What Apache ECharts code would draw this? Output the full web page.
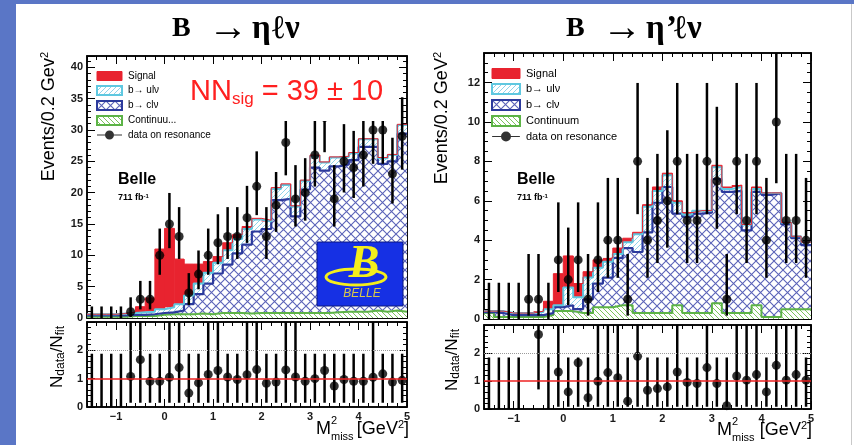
<!DOCTYPE html>
<html><head><meta charset="utf-8">
<script src="https://cdn.jsdelivr.net/npm/echarts@6/dist/echarts.min.js"></script>
<style>html,body{margin:0;padding:0;background:#fff}#c{width:854px;height:445px}</style>
</head><body><div id="c"></div>
<script>
// ---------- binning / ticks ----------
const binCenters = [-1.5,-1.3,-1.1,-0.9,-0.7,-0.5,-0.3,-0.1,0.1,0.3,0.5,0.7,0.9,1.1,1.3,1.5,1.7,1.9,2.1,2.3,2.5,2.7,2.9,3.1,3.3,3.5,3.7,3.9,4.1,4.3,4.5,4.7,4.9];
const binEdges = [-1.6,-1.4,-1.2,-1.0,-0.8,-0.6,-0.4,-0.2,0.0,0.2,0.4,0.6,0.8,1.0,1.2,1.4,1.6,1.8,2.0,2.2,2.4,2.6,2.8,3.0,3.2,3.4,3.6,3.8,4.0,4.2,4.4,4.6,4.8,5.0];
const xTickLabels = [-1,0,1,2,3,4,5];

// ---------- B -> eta l nu (left) ----------
const etaContinuum = [0.2,0.2,0.2,0.2,0.3,0.3,0.3,0.5,0.6,0.6,0.6,0.7,0.6,0.8,0.8,0.8,0.7,0.8,0.8,0.8,0.8,0.8,0.8,0.8,0.8,0.9,1.0,1.0,1.0,1.2,1.0,1.2,1.0];
const etaClv = [0.2,0.2,0.2,0.2,0.2,0.2,0.3,0.3,0.3,0.6,1.6,3.1,4.9,6.3,7.7,9.5,11.0,13.0,13.4,18.0,18.2,15.4,19.7,23.2,22.7,23.3,23.5,24.2,26.3,26.1,23.6,23.8,28.4];
const etaUlv = [0.2,0.2,0.2,0.3,0.3,0.4,0.4,0.6,0.8,1.0,1.4,1.7,1.7,1.7,2.3,2.3,2.5,1.9,1.2,1.8,2.2,1.6,1.4,1.8,1.3,1.4,1.2,1.1,1.2,1.2,0.9,1.0,1.4];
const etaSignal = [0,0,0,0,0.15,0.9,2.2,9.6,12.6,7.2,5.0,3.1,1.8,1.0,1.2,0.7,0.4,0.2,0.2,0.2,0.2,0.1,0.1,0.2,0.1,0.1,0.1,0.1,0.1,0.1,0.1,0.1,0.1];
const etaData = [0,0,0,0,1,3,3,10,15,13,4,7,10,12,13,13,16,21,13,18,28,19,20,26,32,19,25,24,26,30,30,23,29];
const etaDataLo = [0,0,0,0,0.17,1.37,1.37,6.89,11.14,9.42,2.09,4.58,6.89,8.57,9.42,9.42,11.98,16.41,9.42,13.74,22.76,14.59,15.53,20.97,26.45,14.59,20.03,19.14,20.97,24.6,24.6,18.26,23.67];
const etaDataHi = [1.84,1.84,1.84,1.84,3.3,5.92,5.92,14.27,19.95,17.69,7.16,10.77,14.27,16.55,17.69,17.69,21.08,26.59,17.69,23.29,34.16,24.39,25.5,32.01,38.42,24.39,30.93,29.85,32.01,36.29,36.29,28.76,35.22];
const etaRatio = [null,null,null,null,1.08,1.67,0.91,0.91,1.05,1.39,0.49,0.85,1.15,1.29,1.06,0.97,1.14,1.32,0.84,0.88,1.31,1.06,0.91,1.00,1.29,0.74,0.97,0.91,0.91,1.05,1.17,0.88,0.94];
const etaRatioLo = [0,0,0,0,0.15,0.15,0.15,0.15,0.15,0.15,0.15,0.15,0.15,0.15,0.15,0.15,0.15,0.15,0.15,0.15,0.15,0.15,0.15,0.15,0.15,0.15,0.15,0.15,0.15,0.15,0.15,0.15,0.15];
const etaRatioHi = [1.88,1.88,1.88,1.88,3,3,1.88,1.88,3,3,1.88,1.88,3,3,1.88,1.88,3,3,1.88,1.88,3,3,1.88,1.88,1.88,1.88,1.88,1.88,1.88,3,1.88,1.88,1.88];

// ---------- B -> eta' l nu (right) ----------
const etapContinuum = [0.3,0.1,0.1,0.1,0.1,0.1,0.2,0.4,0.4,0.3,0.3,0.6,0.6,0.7,0.7,0.3,0.3,0.3,0.3,0.7,0.3,0.3,0.3,0.8,0.3,0.3,0.3,0.7,0.1,0.1,0.5,0.5,0.5];
const etapClv = [0.05,0.2,0.1,0.1,0.1,0.1,0.1,0.2,0.3,0.2,0.7,1.2,1.5,2.4,2.9,3.1,4.1,5.6,6.4,4.65,4.9,5.05,5.1,6.3,6.15,6.2,4.2,5.75,6.2,6.3,4.3,3.6,3.25];
const etapUlv = [0.05,0.1,0.1,0.1,0.1,0.15,0.2,0.1,0.9,0.6,1.1,0.8,0.8,0.2,0.3,0.9,1.3,0.6,0.6,0.55,0.1,0.15,0.1,0.6,0.15,0.2,0.3,0.15,0.1,0.0,0.1,0.1,0.15];
const etapSignal = [0,0,0,0,0,0.05,0.4,1.6,1.6,0.7,0.3,0.4,0.2,0.3,0.2,0.1,0.1,0.2,0.1,0.1,0.1,0,0,0.1,0.1,0.1,0,0.1,0,0,0,0,0];
const etapData = [0,0,0,0,1,1,0,3,2,3,1,3,4,4,1,8,4,5,6,8,5,5,8,7,1,8,5,8,4,10,5,5,4];
const etapDataLo = [0,0,0,0,0.17,0.17,0,1.37,0.71,1.37,0.17,1.37,2.09,2.09,0.17,5.32,2.09,2.84,3.62,5.32,2.84,2.84,5.32,4.58,0.17,5.32,2.84,5.32,2.09,6.89,2.84,2.84,2.09];
const etapDataHi = [1.84,1.84,1.84,1.84,3.3,3.3,1.84,5.92,4.64,5.92,3.3,5.92,7.16,7.16,3.3,11.98,7.16,8.38,9.58,11.98,8.38,8.38,11.98,10.77,3.3,11.98,8.38,11.98,7.16,14.27,8.38,8.38,7.16];
const etapRatio = [null,null,null,null,null,2.66,null,1.32,0.61,1.65,0.40,0.99,1.30,1.12,0.28,1.88,0.67,0.73,0.79,1.32,0.95,0.91,1.48,0.91,0.12,1.18,1.03,1.23,0.61,1.56,1.03,1.23,1.03];
const etapRatioLo = [0,0,0,0,null,0.70,0,0.08,0.08,0.08,0.08,0.08,0.08,0.08,0.08,0.08,0.08,0.08,0.08,0.08,0.08,0.08,0.08,0.08,0.08,0.08,0.08,0.08,0.08,0.08,0.08,0.08,0.08];
const etapRatioHi = [1.84,1.84,1.84,1.84,null,3,1.84,3,1.84,1.84,1.84,3,3,3,1.84,3,1.84,1.84,1.84,3,1.84,1.84,3,1.84,1.84,3,3,3,1.84,3,3,3,1.84];

// ---------- styles ----------
const FONT = '"Liberation Sans", Arial, Helvetica, sans-serif';
const SERIF = '"Liberation Serif", "DejaVu Serif", "Times New Roman", serif';
const C = { sig:'#e8232f', ulv:'#5fc8e0', clv:'#2c3a9c', cont:'#5cb346' };

function pattern(kind){
  const s = kind === 'clv' ? 9 : 5;
  const cv = document.createElement('canvas'); cv.width = s; cv.height = s;
  const x = cv.getContext('2d');
  x.fillStyle = '#fff'; x.fillRect(0,0,s,s);
  x.lineWidth = 1;
  x.beginPath();
  if (kind === 'ulv') { x.strokeStyle = '#8fd3ea';
    x.moveTo(-1,s+1); x.lineTo(s+1,-1); x.moveTo(-1,1); x.lineTo(1,-1); x.moveTo(s-1,s+1); x.lineTo(s+1,s-1); }
  else if (kind === 'cont') { x.strokeStyle = '#7cc45c';
    x.moveTo(-1,-1); x.lineTo(s+1,s+1); x.moveTo(s-1,-1); x.lineTo(s+1,1); x.moveTo(-1,s-1); x.lineTo(1,s+1); }
  else { x.strokeStyle = '#5b63b8'; x.lineWidth = 1.1;
    x.moveTo(0,0); x.lineTo(s,s); x.moveTo(0,s); x.lineTo(s,0); }
  x.stroke();
  return { image: cv, repeat: 'repeat' };
}
const P = { ulv: pattern('ulv'), clv: pattern('clv'), cont: pattern('cont') };

const grids = [
  {left:87, top:56, width:320, height:262},
  {left:87, top:322, width:320, height:85},
  {left:484, top:53, width:327, height:266},
  {left:484, top:325, width:327, height:84}
];
const labelStyle = {fontSize:11, fontWeight:'bold', color:'#1a1a1a', fontFamily:FONT};

function xAxesFor(g, showLabels){
  const base = {gridIndex:g, type:'value', min:-1.6, max:5, splitLine:{show:false}};
  const major = (pos, lab) => ({...base, position:pos,
    axisLine:{show:true, onZero:false, lineStyle:{color:'#000', width:1.5}},
    axisTick:{show:true, inside:true, length:8, customValues:xTickLabels, lineStyle:{color:'#000', width:1}},
    axisLabel:{show:lab, customValues:xTickLabels, margin:4, ...labelStyle,
      formatter: v => v < 0 ? '\u2212' + Math.abs(v) : String(v)}});
  const minor = pos => ({...base, position:pos, interval:0.2,
    axisLine:{show:false, onZero:false},
    axisTick:{show:true, inside:true, length:4, lineStyle:{color:'#000', width:1}},
    axisLabel:{show:false}});
  return [major('bottom', showLabels), minor('bottom'), major('top', false), minor('top')];
}
function yAxesFor(g, max, interval, minorSplit){
  const base = {gridIndex:g, type:'value', min:0, max, interval, splitLine:{show:false}};
  return [
    {...base, position:'left',
      axisLine:{show:true, onZero:false, lineStyle:{color:'#000', width:1.5}},
      axisTick:{show:true, inside:true, length:8, lineStyle:{color:'#000'}},
      minorTick:{show:true, splitNumber:minorSplit, length:4, lineStyle:{color:'#000'}},
      axisLabel:{show:true, showMaxLabel:false, margin:4, ...labelStyle}},
    {...base, position:'right',
      axisLine:{show:true, onZero:false, lineStyle:{color:'#000', width:1.5}},
      axisTick:{show:true, inside:true, length:8, lineStyle:{color:'#000'}},
      minorTick:{show:true, splitNumber:minorSplit, length:4, lineStyle:{color:'#000'}},
      axisLabel:{show:false}}
  ];
}

// stacked histogram: fills drawn as per-bin rectangles, outlines as step lines
function stackSeries(g, comps){
  const xi = 4*g, yi = 2*g, out = [], outlines = [];
  let run = binCenters.map(() => 0);
  comps.forEach(c => {
    const lo = run.slice();
    run = run.map((v,i) => v + c.data[i]);
    const hi = run.slice();
    const data = binCenters.map((b,i) => [binEdges[i], binEdges[i+1], lo[i], hi[i]]);
    const fill = c.fill;
    out.push({type:'custom', name:c.name, xAxisIndex:xi, yAxisIndex:yi, clip:true, silent:true, z:1,
      itemStyle:{color:c.stroke}, data, encode:{x:[0,1], y:[2,3]},
      renderItem:(p, api) => {
        const a = api.coord([api.value(0), api.value(3)]);
        const b = api.coord([api.value(1), api.value(2)]);
        return {type:'rect', shape:{x:a[0], y:a[1], width:b[0]-a[0]+0.6, height:b[1]-a[1]}, style:{fill}};
      }});
    const d = binEdges.map((e,i) => [e, hi[Math.min(i, hi.length-1)]]);
    outlines.push({type:'line', xAxisIndex:xi, yAxisIndex:yi, data:d, step:'end',
      symbol:'none', showSymbol:false, silent:true, z:2,
      lineStyle:{color:c.stroke, width:c.lw}});
  });
  return out.concat(outlines);
}
function errSeries(g, lo, hi, lw){
  const data = [];
  binCenters.forEach((c,i) => { if (lo[i] != null && hi[i] != null) data.push([c, lo[i], hi[i]]); });
  return {type:'custom', xAxisIndex:4*g, yAxisIndex:2*g, clip:true, z:3, silent:true, data,
    encode:{x:0, y:[1,2]},
    renderItem:(p, api) => {
      const a = api.coord([api.value(0), api.value(1)]);
      const b = api.coord([api.value(0), api.value(2)]);
      return {type:'line', shape:{x1:a[0], y1:a[1], x2:b[0], y2:b[1]}, style:{stroke:'#000', lineWidth:lw}};
    }};
}
function dotSeries(g, vals, extra){
  const data = [];
  binCenters.forEach((c,i) => { if (vals[i] != null && vals[i] > 0) data.push([c, vals[i]]); });
  return Object.assign({type:'scatter', name:'data on resonance', xAxisIndex:4*g, yAxisIndex:2*g, data,
    symbol:'circle', symbolSize:9, itemStyle:{color:'#000'}, z:4, silent:true}, extra || {});
}
const ratioLines = {markLine:{silent:true, symbol:'none', label:{show:false}, animation:false,
  data:[{yAxis:2, lineStyle:{color:'#9a9a9a', type:'dotted', width:1}},
        {yAxis:1, lineStyle:{color:'#ee2222', type:'solid', width:1.5}}]}};

function comps(cont, contName, clv, ulv, sig){
  return [
    {name:contName, data:cont, fill:P.cont, stroke:C.cont, lw:2},
    {name:'b\u2192 cl\u03bd', data:clv, fill:P.clv, stroke:C.clv, lw:2.2},
    {name:'b\u2192 ul\u03bd', data:ulv, fill:P.ulv, stroke:C.ulv, lw:2},
    {name:'Signal', data:sig, fill:C.sig, stroke:C.sig, lw:1}
  ];
}

const dataIcon = 'path://M0,4H25V5H0Z M12.5,0A4.5,4.5,0,1,1,12.49,0Z';
function legendFor(left, top, contName, iw, ih, fs, gap){
  return {left, top, orient:'vertical', itemWidth:iw, itemHeight:ih, itemGap:gap, padding:0,
    selectedMode:false,
    textStyle:{fontSize:fs, color:'#000', fontFamily:FONT, lineHeight:fs, padding:[0,0,0,1]},
    data:[
      {name:'Signal', icon:'rect', itemStyle:{color:C.sig, borderColor:C.sig, borderWidth:1}},
      {name:'b\u2192 ul\u03bd', icon:'rect', itemStyle:{color:P.ulv, borderColor:C.ulv, borderWidth:2}},
      {name:'b\u2192 cl\u03bd', icon:'rect', itemStyle:{color:P.clv, borderColor:C.clv, borderWidth:2}},
      {name:contName, icon:'rect', itemStyle:{color:P.cont, borderColor:C.cont, borderWidth:2}},
      {name:'data on resonance', icon:dataIcon, itemStyle:{color:'#000'}}
    ]};
}

function title(x, glyphs){
  const tk = (w, size, bold) => ({fontSize:size, fontWeight:bold ? 'bold' : 'normal', fontFamily:SERIF,
    fill:'#000', color:'#000', lineHeight:40, width:w, align:'left'});
  const rich = {b:tk(36, 28, true), a:tk(44, 40, false)};
  let text = '{b|B}{a|\u2192}';
  glyphs.forEach((g, i) => { rich['g'+i] = tk(g[1], 33, true); text += '{g'+i+'|'+g[0]+'}'; });
  return {type:'text', x, y:29, z:100, style:{text, align:'center', verticalAlign:'middle', rich}};
}
function ylab(x, y, main, sup){
  return {type:'text', x, y, rotation:Math.PI/2, z:100,
    style:{text:'{a|'+main+'}{b|'+sup+'}', align:'right', verticalAlign:'middle',
      rich:{a:{fontSize:18, fontFamily:FONT, fill:'#000', color:'#000', lineHeight:20},
            b:{fontSize:11, fontFamily:FONT, fill:'#000', color:'#000', lineHeight:8, verticalAlign:'top'}}}};
}
function rlab(x, y){
  return {type:'text', x, y, rotation:Math.PI/2, z:100,
    style:{text:'{a|N}{s|data}{a|/N}{s|fit}', align:'center', verticalAlign:'middle',
      rich:{a:{fontSize:17, fontFamily:FONT, fill:'#000', color:'#000', lineHeight:20},
            s:{fontSize:12, fontFamily:FONT, fill:'#000', color:'#000', lineHeight:6, verticalAlign:'bottom'}}}};
}
function xlab(xM, xRight, y){
  return [
    {type:'text', x:xM, y, z:100, style:{text:'M', font:'18px '+FONT, fill:'#000', align:'left', verticalAlign:'middle'}},
    {type:'text', x:xM+15, y:y-8, z:100, style:{text:'2', font:'11px '+FONT, fill:'#000', align:'left', verticalAlign:'middle'}},
    {type:'text', x:xM+15, y:y+8, z:100, style:{text:'miss', font:'11px '+FONT, fill:'#000', align:'left', verticalAlign:'middle'}},
    {type:'text', x:xRight, y:y-10, z:100, style:{text:'{a|[GeV}{b|2}{a|]}', align:'right', verticalAlign:'top',
      rich:{a:{fontSize:18, fontFamily:FONT, fill:'#000', color:'#000', lineHeight:20},
            b:{fontSize:11, fontFamily:FONT, fill:'#000', color:'#000', lineHeight:9, verticalAlign:'top'}}}}
  ];
}
function belle(x, y){
  return [
    {type:'text', x, y, z:100, style:{text:'Belle', font:'bold 16px '+FONT, fill:'#000', align:'left', verticalAlign:'top'}},
    {type:'text', x, y:y+21, z:100, style:{text:'{a|711 fb}{b|-1}', align:'left', verticalAlign:'top',
      rich:{a:{fontSize:9, fontWeight:'bold', fontFamily:FONT, fill:'#000', color:'#000', lineHeight:10},
            b:{fontSize:6, fontWeight:'bold', fontFamily:FONT, fill:'#000', color:'#000', lineHeight:5, verticalAlign:'top'}}}}
  ];
}

const graphic = [
  {type:'rect', shape:{x:0, y:0, width:16, height:445}, style:{fill:'#5a76c6'}, z:100},
  {type:'rect', shape:{x:0, y:0, width:854, height:4}, style:{fill:'#5a76c6'}, z:100},
  {type:'line', shape:{x1:851.5, y1:4, x2:851.5, y2:445}, style:{stroke:'#c9c9c9', lineWidth:1}, z:100},
  title(242, [['\u03b7',20],['\u2113',13],['\u03bd',27]]),
  title(640, [['\u03b7',20],['\u2019',8],['\u2113',13],['\u03bd',27]]),
  // NN_sig box
  {type:'rect', shape:{x:184, y:69, width:214, height:52}, style:{fill:'#fff'}, z:100},
  {type:'text', x:190, y:76, z:101, style:{text:'{n|NN}{s|sig}{n| = 39 \u00b1 10}', align:'left', verticalAlign:'top',
    rich:{n:{fontSize:29, fontFamily:FONT, fill:'#ff2020', color:'#ff2020', lineHeight:32},
          s:{fontSize:17, fontFamily:FONT, fill:'#ff2020', color:'#ff2020', lineHeight:8, verticalAlign:'bottom'}}}},
  // Belle logo
  {type:'rect', shape:{x:317, y:242, width:86, height:64}, style:{fill:'#1630e4', stroke:'#0b1680', lineWidth:1}, z:100},
  {type:'ellipse', shape:{cx:356, cy:277, rx:30, ry:8}, style:{fill:null, stroke:'#f4ee1c', lineWidth:3}, z:101},
  {type:'text', x:364, y:265, z:101, style:{text:'B', font:'italic bold 46px '+SERIF, fill:'#f4ee1c', align:'center', verticalAlign:'middle'}},
  {type:'text', x:362, y:294, z:101, style:{text:'BELLE', font:'italic 12px '+FONT, fill:'#d9c94a', align:'center', verticalAlign:'middle'}},
  ylab(49, 52, 'Events/0.2 Gev', '2'),
  ylab(442, 52, 'Events/0.2 GeV', '2'),
  rlab(57, 357),
  rlab(452, 360),
  ...xlab(316, 409, 429),
  ...xlab(717, 812, 430),
  ...belle(118, 172),
  ...belle(517, 172)
];

const option = {
  animation:false,
  backgroundColor:'#fff',
  grid: grids.map(g => ({...g, show:true, borderColor:'#000', borderWidth:1.5, backgroundColor:'transparent'})),
  xAxis: [...xAxesFor(0,false), ...xAxesFor(1,true), ...xAxesFor(2,false), ...xAxesFor(3,true)],
  yAxis: [...yAxesFor(0,41.8,5,5), ...yAxesFor(1,3,1,5), ...yAxesFor(2,13.5,2,4), ...yAxesFor(3,3,1,5)],
  legend: [legendFor(96, 71, 'Continuu...', 25, 9, 10, 4), legendFor(491, 68, 'Continuum', 28, 10, 11, 4)],
  series: [
    ...stackSeries(0, comps(etaContinuum, 'Continuu...', etaClv, etaUlv, etaSignal)),
    errSeries(0, etaDataLo, etaDataHi, 2.5),
    dotSeries(0, etaData),
    errSeries(1, etaRatioLo, etaRatioHi, 2.5),
    dotSeries(1, etaRatio, ratioLines),
    ...stackSeries(2, comps(etapContinuum, 'Continuum', etapClv, etapUlv, etapSignal)),
    errSeries(2, etapDataLo, etapDataHi, 2.5),
    dotSeries(2, etapData),
    errSeries(3, etapRatioLo, etapRatioHi, 2.5),
    dotSeries(3, etapRatio, ratioLines)
  ],
  graphic
};
const chart = echarts.init(document.getElementById('c'), null, {renderer:'canvas', width:854, height:445});
chart.setOption(option);
</script>
</body></html>
